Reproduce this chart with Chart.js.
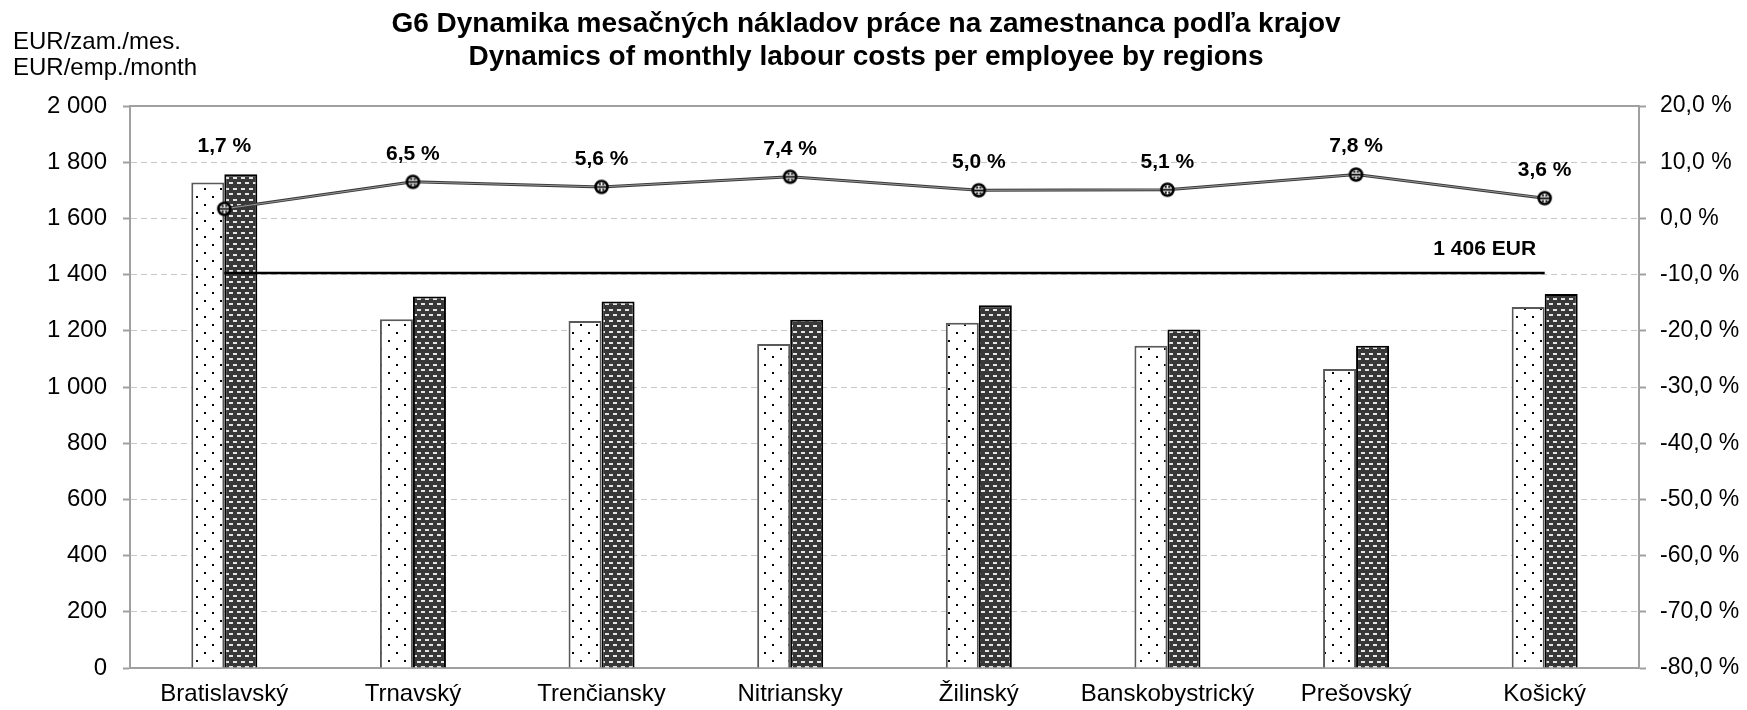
<!DOCTYPE html>
<html><head><meta charset="utf-8">
<script src="https://cdn.jsdelivr.net/npm/chart.js@4.4.0/dist/chart.umd.min.js"></script>
<style>html,body{margin:0;padding:0;background:#fff}#wrap{width:1747px;height:710px;position:relative}</style>
</head><body><div id="wrap"><canvas id="c"></canvas></div>
<script>
// ---- data ----
const regions = ['Bratislavský','Trnavský','Trenčiansky','Nitriansky','Žilinský','Banskobystrický','Prešovský','Košický'];
const costsPrev = [1728, 1241, 1235, 1153, 1229, 1147, 1064, 1285];
const costsCurr = [1757, 1322, 1304, 1239, 1291, 1205, 1147, 1331];
const growthPct = [1.7, 6.5, 5.6, 7.4, 5.0, 5.1, 7.8, 3.6];
const averageCost = 1406;
const averageLine = regions.map(() => averageCost);
const leftAxis = {min: 0, max: 2000, step: 200};
const rightAxis = {min: -80, max: 20, step: 10};
const titleLines = ['G6 Dynamika mesačných nákladov práce na zamestnanca podľa krajov', 'Dynamics of monthly labour costs per employee by regions'];
const unitLines = ['EUR/zam./mes.', 'EUR/emp./month'];

const FONT = '"Liberation Sans", Arial, sans-serif';
Chart.defaults.font.family = FONT;
Chart.defaults.color = '#000';

const fmtThousands = v => String(v).replace(/\B(?=(\d{3})+(?!\d))/g, ' ');
const fmtPct = v => Number(v).toFixed(1).replace('.', ',') + ' %';

function dotPattern() {
  const c = document.createElement('canvas'); c.width = 16; c.height = 16;
  const g = c.getContext('2d');
  g.fillStyle = '#fff'; g.fillRect(0, 0, 16, 16);
  g.fillStyle = '#000';
  g.fillRect(4, 4, 2, 2); g.fillRect(12, 12, 2, 2);
  return g.createPattern(c, 'repeat');
}
function dashPattern() {
  const c = document.createElement('canvas'); c.width = 8; c.height = 11;
  const g = c.getContext('2d');
  g.fillStyle = '#383838'; g.fillRect(0, 0, 8, 11);
  g.fillStyle = '#e6e6e6';
  g.fillRect(1, 1, 4, 2); g.fillRect(5, 6, 4, 2); g.fillRect(-3, 6, 4, 2);
  return g.createPattern(c, 'repeat');
}
function marker() {
  const c = document.createElement('canvas'); c.width = 17; c.height = 17;
  const g = c.getContext('2d');
  g.beginPath(); g.arc(8.5, 8.5, 6, 0, Math.PI * 2);
  g.fillStyle = '#fff'; g.fill();
  g.lineWidth = 2.6; g.strokeStyle = '#000'; g.stroke();
  g.fillStyle = '#000';
  g.fillRect(3.5, 7.7, 10, 1.8);
  g.fillRect(5.8, 4.6, 2, 2); g.fillRect(9.3, 4.6, 2, 2);
  g.fillRect(5.8, 10.5, 2, 2); g.fillRect(9.3, 10.5, 2, 2);
  return c;
}

const decor = {
  id: 'decor',
  beforeDatasetsDraw(chart) {
    const {ctx, chartArea: ca} = chart;
    ctx.save();
    ctx.strokeStyle = '#a0a0a0'; ctx.lineWidth = 2;
    ctx.beginPath(); ctx.moveTo(ca.left, ca.top); ctx.lineTo(ca.right, ca.top); ctx.stroke();
    ctx.restore();
  },
  afterDraw(chart) {
    const ctx = chart.ctx;
    ctx.save();
    ctx.fillStyle = '#000';
    ctx.textBaseline = 'middle';
    ctx.textAlign = 'center';
    ctx.font = 'bold 28px ' + FONT;
    ctx.fillText(titleLines[0], 866, 24);
    ctx.fillText(titleLines[1], 866, 57);
    ctx.textAlign = 'left';
    ctx.font = '24px ' + FONT;
    ctx.fillText(unitLines[0], 13, 42);
    ctx.fillText(unitLines[1], 13, 68);
    // growth labels
    const lineMeta = chart.getDatasetMeta(5);
    const currMeta = chart.getDatasetMeta(1);
    ctx.textAlign = 'center';
    ctx.font = 'bold 21px ' + FONT;
    growthPct.forEach((v, i) => {
      const p = lineMeta.data[i], b = currMeta.data[i];
      ctx.fillText(fmtPct(v), p.x, Math.min(p.y, b.y) - 28);
    });
    // average label
    const avgMeta = chart.getDatasetMeta(2);
    const last = avgMeta.data[avgMeta.data.length - 1];
    ctx.fillText(fmtThousands(averageCost) + ' EUR', last.x - 60, last.y - 24);
    ctx.restore();
  }
};

const ctx = document.getElementById('c').getContext('2d');
new Chart(ctx, {
  data: {
    labels: regions,
    datasets: [
      {type: 'bar', label: 'prev', data: costsPrev, yAxisID: 'y', backgroundColor: dotPattern(),
       borderColor: '#595959', borderWidth: 2, categoryPercentage: 0.35, barPercentage: 1, order: 5},
      {type: 'bar', label: 'curr', data: costsCurr, yAxisID: 'y', backgroundColor: dashPattern(),
       borderColor: '#000', borderWidth: 2, categoryPercentage: 0.35, barPercentage: 1, order: 5},
      {type: 'line', label: 'avg', data: averageLine, yAxisID: 'y', borderColor: '#000', borderWidth: 2.5,
       pointRadius: 0, tension: 0, order: 4},
      {type: 'line', label: 'growth-edge', data: growthPct, yAxisID: 'y1', borderColor: '#3a3a3a', borderWidth: 3,
       pointRadius: 0, tension: 0, order: 3},
      {type: 'line', label: 'growth-core', data: growthPct, yAxisID: 'y1', borderColor: '#b0b0b0', borderWidth: 0.8,
       pointRadius: 0, tension: 0, order: 2},
      {type: 'line', label: 'growth', data: growthPct, yAxisID: 'y1', showLine: false,
       pointStyle: marker(), pointRadius: 7, order: 1}
    ]
  },
  options: {
    responsive: true, maintainAspectRatio: false, animation: false, devicePixelRatio: 1,
    layout: {padding: {top: 106, left: 0, right: 0, bottom: 0}},
    plugins: {legend: {display: false}, tooltip: {enabled: false}, title: {display: false}},
    scales: {
      x: {
        grid: {display: false, drawTicks: false},
        border: {display: true, color: '#a0a0a0', width: 2},
        ticks: {font: {size: 24}, color: '#000', padding: 12, maxRotation: 0, autoSkip: false},
        afterFit(s) { s.height = 42; }
      },
      y: {
        position: 'left', min: leftAxis.min, max: leftAxis.max,
        ticks: {stepSize: leftAxis.step, font: {size: 24}, color: '#000', padding: 16, callback: v => fmtThousands(v)},
        grid: {color: c => (c.tick && (c.tick.value === leftAxis.max || c.tick.value === leftAxis.min)) ? 'rgba(0,0,0,0)' : '#c8c8c8',
               lineWidth: 1, tickLength: 7, tickColor: '#a0a0a0', tickWidth: 2},
        border: {display: true, color: '#a0a0a0', width: 2, dash: [6, 4]},
        afterFit(s) { s.width = 130; }
      },
      y1: {
        position: 'right', min: rightAxis.min, max: rightAxis.max,
        ticks: {stepSize: rightAxis.step, font: {size: 23}, color: '#000', padding: 14, callback: v => fmtPct(v)},
        grid: {drawOnChartArea: false, tickLength: 7, tickColor: '#a0a0a0', tickWidth: 2},
        border: {display: true, color: '#a0a0a0', width: 2},
        afterFit(s) { s.width = 108; }
      }
    }
  },
  plugins: [decor]
});
</script>
</body></html>
